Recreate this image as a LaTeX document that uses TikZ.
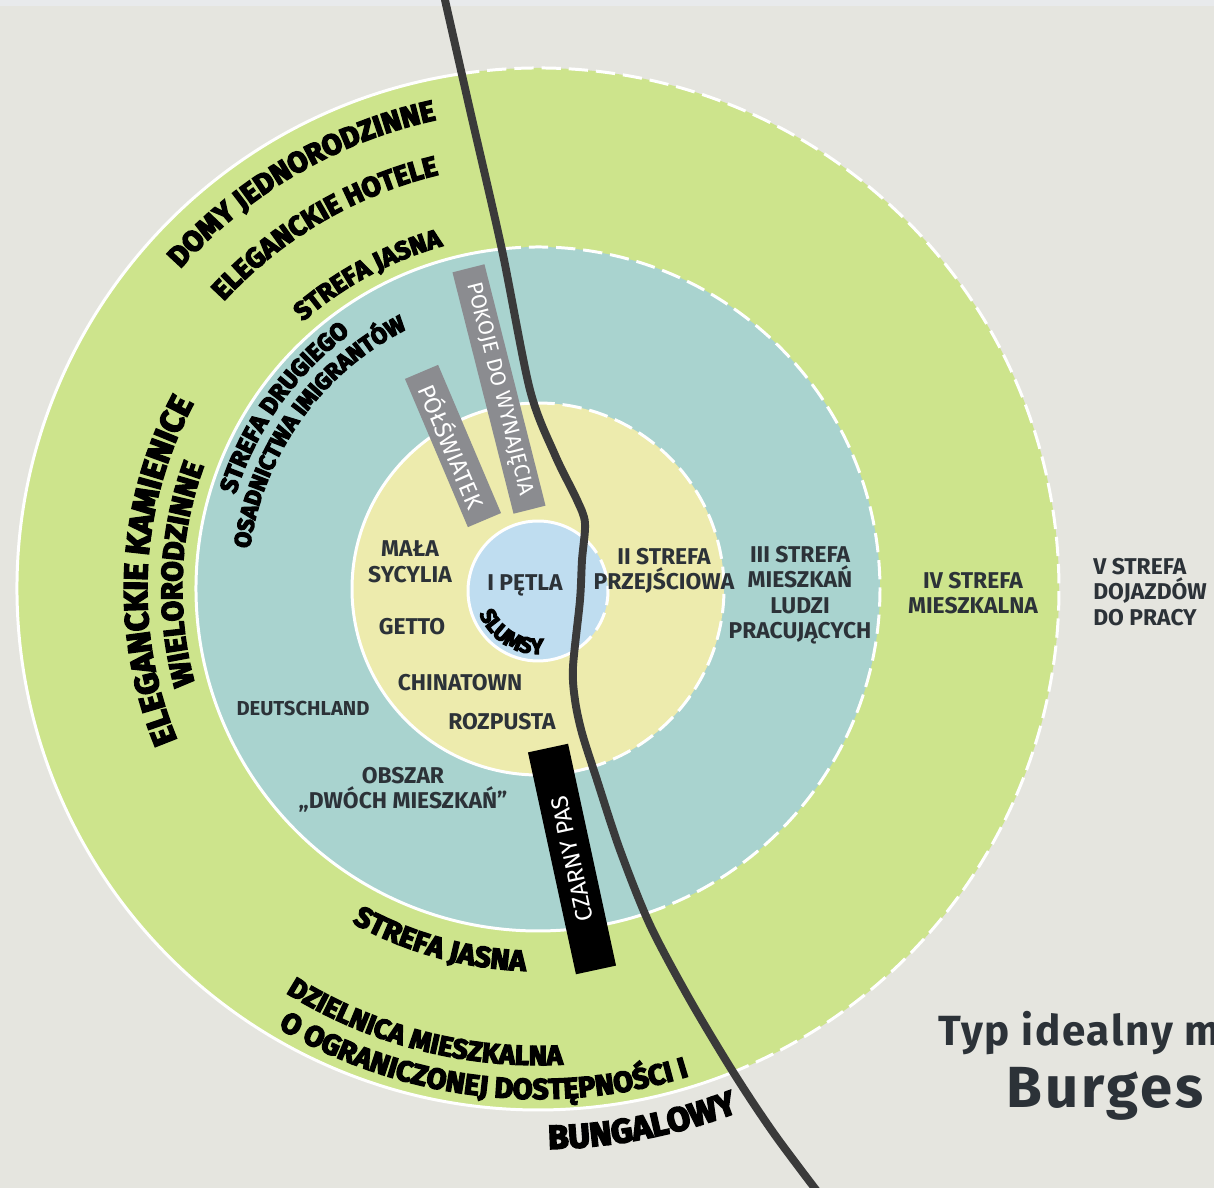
\documentclass[tikz,border=0pt]{standalone}
\usepackage{fontspec}
\setmainfont{Fira Sans}
\newfontfamily\heavyfont{Fira Sans}[BoldFeatures={FakeBold=5}]
\usetikzlibrary{decorations.text}
\definecolor{bgray}{HTML}{E5E5DF}
\definecolor{topgray}{HTML}{E8EAEC}
\definecolor{green1}{HTML}{CDE48C}
\definecolor{teal1}{HTML}{A9D3CF}
\definecolor{yellow1}{HTML}{EDEBAD}
\definecolor{blue1}{HTML}{BFDDF0}
\definecolor{roadgray}{HTML}{3A3A3A}
\definecolor{boxgray}{HTML}{8B8C90}
\definecolor{ink}{HTML}{2C3238}
\newcommand\arcfont[1]{\heavyfont\bfseries\fontsize{#1}{#1}\selectfont}

\begin{document}
\begin{tikzpicture}[x=0.2mm, y=0.2mm,
  zone/.style={text=ink, font=\bfseries\fontsize{13}{14.5}\selectfont, align=center, inner sep=0},
  graybox/.style={fill=boxgray, text=white, inner sep=0, font=\fontsize{12.3}{12.3}\selectfont},
  ringline/.style={white, line width=1.7pt},
  ringdash/.style={white, line width=1.7pt, dash pattern=on 11pt off 4.5pt},
  ringtext/.style={decorate, decoration={text along path, text align=center, text={#1}}}]

\useasboundingbox (-538,-599) rectangle (676,589);
\fill[bgray] (-538,-599) rectangle (676,589);
\fill[topgray] (-538,583) rectangle (676,589);

% rings
\fill[green1] (0,0) circle (521);
\fill[teal1] (0,0) circle (342);
\fill[yellow1] (0,0) circle (186);
\fill[blue1] (0,-2) circle (70);

% borders: solid west of the road, dashed east of it
\draw[ringline] (98.6:521) arc[start angle=98.6, end angle=292.2, radius=521];
\draw[ringdash] (98.6:521) arc[start angle=98.6, end angle=-67.8, radius=521];
\draw[ringline] (96.1:342) arc[start angle=96.1, end angle=288.3, radius=342];
\draw[ringdash] (96.1:342) arc[start angle=96.1, end angle=-71.7, radius=342];
\draw[ringline] (90.8:186) arc[start angle=90.8, end angle=287.1, radius=186];
\draw[ringdash] (90.8:186) arc[start angle=90.8, end angle=-72.9, radius=186];
\draw[ringline, shift={(0,-2)}] (48.8:70) arc[start angle=48.8, end angle=304, radius=70];
\draw[ringdash, shift={(0,-2)}] (48.8:70) arc[start angle=48.8, end angle=-56, radius=70];

% texts along the rings
\path[ringtext={|\arcfont{16.4}|DOMY JEDNORODZINNE}] (160.2:480) arc[start angle=160.2, end angle=80.2, radius=480];
\path[ringtext={|\arcfont{15.7}|ELEGANCKIE HOTELE}] (160.5:426) arc[start angle=160.5, end angle=80.5, radius=426];
\path[ringtext={|\arcfont{14.5}|STREFA JASNA}] (158.4:356) arc[start angle=158.4, end angle=78.4, radius=356];
\path[ringtext={|\arcfont{13.8}|STREFA DRUGIEGO}] (184.5:317) arc[start angle=184.5, end angle=104.5, radius=317];
\path[ringtext={|\arcfont{13.1}|OSADNICTWA IMIGRANTÓW}] (189.4:291) arc[start angle=189.4, end angle=99.4, radius=291];
\path[ringtext={|\arcfont{18.7}|ELEGANCKIE KAMIENICE}] (222.2:391) arc[start angle=222.2, end angle=132.2, radius=391];
\path[ringtext={|\arcfont{16.8}|WIELORODZINNE}] (217.6:356) arc[start angle=217.6, end angle=137.6, radius=356];
\path[ringtext={|\arcfont{16.4}|STREFA JASNA}] (214.5:382) arc[start angle=214.5, end angle=294.5, radius=382];
\path[ringtext={|\arcfont{15.6}|DZIELNICA MIESZKALNA}] (210.5:476) arc[start angle=210.5, end angle=300.5, radius=476];
\path[ringtext={|\arcfont{16.3}|O OGRANICZONEJ DOSTĘPNOŚCI I}] (213.3:510) arc[start angle=213.3, end angle=313.3, radius=510];
\path[ringtext={|\arcfont{19}|BUNGALOWY}] (241:560) arc[start angle=241, end angle=321, radius=560];
\path[ringtext={|\arcfont{12.5}|SLUMSY}, shift={(0,-2)}] (178:63) arc[start angle=178, end angle=298, radius=63];

% zone labels
\node[zone] (petla) at (-13,4) {I PĘTLA};
\node[zone] (sycylia) at (-128,27) {MAŁA\\SYCYLIA};
\node[zone] (getto) at (-126,-38) {GETTO};
\node[zone] (chinatown) at (-78,-94) {CHINATOWN};
\node[zone] (rozpusta) at (-36,-133) {ROZPUSTA};
\node[zone, font=\bfseries\fontsize{11.5}{13}\selectfont] (deutsch) at (-235,-119) {DEUTSCHLAND};
\node[zone] (obszar) at (-135,-201) {OBSZAR\\„DWÓCH MIESZKAŃ”};
\node[zone] (strefaII) at (126,18) {II STREFA\\PRZEJŚCIOWA};
\node[zone] (strefaIII) at (262,-6) {III STREFA\\MIESZKAŃ\\LUDZI\\PRACUJĄCYCH};
\node[zone] (strefaIV) at (435,-4) {IV STREFA\\MIESZKALNA};
\node[zone, align=left, anchor=west] (strefaV) at (555,-3) {V STREFA\\DOJAZDÓW\\DO PRACY};

% boxes
\node[graybox, rotate=-75.8, minimum width=49.8mm, minimum height=6.6mm] (pokoje) at (-39,200) {POKOJE DO WYNAJĘCIA};
\node[graybox, rotate=-67, minimum width=32.2mm, minimum height=7.2mm, font=\fontsize{13.5}{13.5}\selectfont] (polswiatek) at (-85,143) {PÓŁŚWIATEK};
\node[fill=black, text=white, inner sep=0, rotate=102.2, minimum width=45.4mm, minimum height=8.2mm, font=\fontsize{13.5}{13.5}\selectfont] (czarny) at (34,-270) {CZARNY PAS};

% road
\draw[roadgray, line width=4.5pt] plot[smooth] coordinates {(-95.5,600) (-68,479) (-36,339) (-8,199) (17,134) (39,89) (47,66) (44,29) (42,-11) (35,-78) (37,-111) (44,-144) (59,-191) (82,-261) (112,-336) (152,-411) (197,-486) (237,-546) (285,-610)};

% title
\node[anchor=base west, inner sep=0, text=ink, font=\bfseries\fontsize{24}{24}\selectfont\addfontfeatures{LetterSpace=4}] (typ) at (400,-456) {Typ idealny m};
\node[anchor=base west, inner sep=0, text=ink, font=\bfseries\fontsize{33}{33}\selectfont\addfontfeatures{LetterSpace=5}] (burges) at (468,-518) {Burges};
\end{tikzpicture}
\end{document}
